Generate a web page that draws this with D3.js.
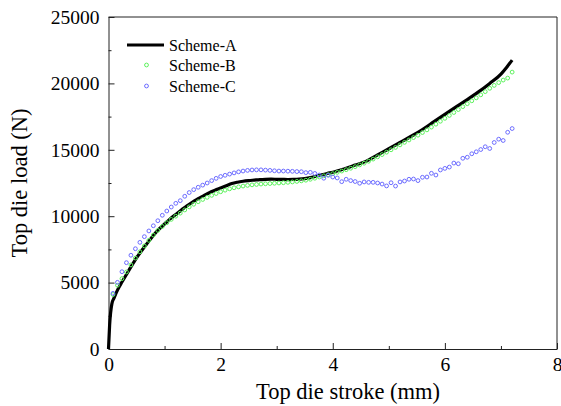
<!DOCTYPE html>
<html>
<head>
<meta charset="utf-8">
<script src="https://cdn.jsdelivr.net/npm/d3@7"></script>
<style>
  body { margin: 0; background: #fff; }
  svg { display: block; font-family: "Liberation Serif", "Times New Roman", serif; }
</style>
</head>
<body>
<svg id="chart"></svg>
<script>
const width = 561;
const height = 406;

// Scheme-A, solid line
const strokeA = [0, 0.02, 0.06, 0.1, 0.16, 0.24, 0.32, 0.4,
  0.5, 0.6, 0.7, 0.8, 0.9, 1.0, 1.1, 1.2, 1.3, 1.4, 1.5, 1.6, 1.7, 1.8, 1.9, 2.0,
  2.1, 2.2, 2.3, 2.4, 2.5, 2.6, 2.7, 2.8, 2.9, 3.0, 3.1, 3.2, 3.3, 3.4, 3.5, 3.6,
  3.7, 3.8, 3.9, 4.0, 4.2, 4.4, 4.6, 4.8, 5.0, 5.2, 5.4, 5.6, 5.8, 6.0, 6.2, 6.4,
  6.6, 6.8, 7.0, 7.1, 7.2];
const loadA = [0, 1800, 3400, 3850, 4430, 5040, 5610, 6180,
  6860, 7460, 8010, 8550, 9020, 9410, 9800, 10130, 10460, 10790, 11060, 11330, 11550, 11770, 11950, 12120,
  12290, 12460, 12560, 12630, 12680, 12720, 12760, 12780, 12790, 12780, 12770, 12760, 12770, 12790, 12830, 12900,
  13010, 13120, 13220, 13310, 13560, 13850, 14150, 14620, 15080, 15550, 16020, 16530, 17100, 17670, 18230, 18780,
  19360, 20000, 20700, 21200, 21750];

// Scheme-B and Scheme-C share the same stroke grid
const strokeBC = [0.08, 0.16, 0.24, 0.32, 0.40, 0.48, 0.56, 0.64, 0.72, 0.80,
  0.88, 0.96, 1.04, 1.12, 1.20, 1.28, 1.36, 1.44, 1.52, 1.60,
  1.68, 1.76, 1.84, 1.92, 2.00, 2.08, 2.16, 2.24, 2.32, 2.40,
  2.48, 2.56, 2.64, 2.72, 2.80, 2.88, 2.96, 3.04, 3.12, 3.20,
  3.28, 3.36, 3.44, 3.52, 3.60, 3.68, 3.76, 3.84, 3.92, 4.00,
  4.08, 4.16, 4.24, 4.32, 4.40, 4.48, 4.56, 4.64, 4.72, 4.80,
  4.88, 4.96, 5.04, 5.12, 5.20, 5.28, 5.36, 5.44, 5.52, 5.60,
  5.68, 5.76, 5.84, 5.92, 6.00, 6.08, 6.16, 6.24, 6.32, 6.40,
  6.48, 6.56, 6.64, 6.72, 6.80, 6.88, 6.96, 7.04, 7.12, 7.20];

const loadB = [4100, 4800, 5300, 5800, 6330, 6850, 7320, 7760, 8180, 8580,
  8930, 9230, 9510, 9760, 10000, 10230, 10470, 10700, 10900, 11090,
  11260, 11420, 11570, 11710, 11840, 11960, 12060, 12140, 12210, 12270,
  12320, 12360, 12390, 12420, 12440, 12460, 12480, 12500, 12520, 12550,
  12580, 12620, 12660, 12710, 12780, 12860, 12950, 13040, 13120, 13200,
  13300, 13400, 13500, 13610, 13730, 13860, 13990, 14140, 14300, 14470,
  14640, 14820, 15000, 15180, 15370, 15560, 15740, 15920, 16100, 16300,
  16500, 16710, 16930, 17150, 17370, 17590, 17810, 18030, 18250, 18470,
  18690, 18910, 19140, 19380, 19630, 19850, 20060, 20250, 20400, 20850];

const loadC = [4190, 5020, 5820, 6500, 7060, 7550, 8030, 8460, 8890, 9280,
  9660, 10070, 10390, 10690, 10970, 11170, 11500, 11780, 12000, 12180,
  12340, 12500, 12680, 12850, 12990, 13080, 13170, 13260, 13340, 13400,
  13450, 13480, 13490, 13490, 13470, 13450, 13420, 13400, 13400, 13390,
  13380, 13360, 13350, 13280, 13300, 13220, 13100, 12860, 13080, 12950,
  12880, 12600, 12780, 12680, 12610, 12480, 12580, 12550, 12550, 12500,
  12420, 12280, 12520, 12270, 12580, 12650, 12780, 12800, 12680, 12930,
  12950, 13230, 13100, 13480, 13600, 13700, 14000, 13950, 14360, 14440,
  14700, 14850, 15020, 15230, 15100, 15550, 15800, 15700, 16320, 16600];

const xTicks = [0, 2, 4, 6, 8];
const xMinor = [1, 3, 5, 7];
const yTicks = [0, 5000, 10000, 15000, 20000, 25000];
const yMinor = [2500, 7500, 12500, 17500, 22500];

const seriesNames = ['Scheme-A', 'Scheme-B', 'Scheme-C'];
const colorB = '#5cf25c';
const colorC = '#6b6bff';

const margin = {left: 108.5, right: 4, top: 17, bottom: 57};

const svg = d3.select('#chart')
  .attr('width', width)
  .attr('height', height);

const x = d3.scaleLinear().domain([0, 8]).range([margin.left, width - margin.right]);
const y = d3.scaleLinear().domain([0, 25000]).range([height - margin.bottom, margin.top]);

// minor ticks first, so the major axis sits on top
svg.append('g')
  .attr('transform', `translate(0, ${y(0)})`)
  .call(d3.axisBottom(x).tickValues(xMinor).tickSizeInner(-3).tickSizeOuter(0).tickFormat(''))
  .call(g => g.select('.domain').remove());
svg.append('g')
  .attr('transform', `translate(${x(0)}, 0)`)
  .call(d3.axisLeft(y).tickValues(yMinor).tickSizeInner(-3).tickSizeOuter(0).tickFormat(''))
  .call(g => g.select('.domain').remove());

const xAxis = svg.append('g')
  .attr('transform', `translate(0, ${y(0)})`)
  .call(d3.axisBottom(x).tickValues(xTicks).tickSizeInner(-6).tickSizeOuter(0).tickPadding(8).tickFormat(d3.format('d')));

const yAxis = svg.append('g')
  .attr('transform', `translate(${x(0)}, 0)`)
  .call(d3.axisLeft(y).tickValues(yTicks).tickSizeInner(-6).tickSizeOuter(0).tickPadding(9).tickFormat(d3.format('d')));

svg.selectAll('.tick text')
  .attr('font-family', '"Liberation Serif", serif')
  .attr('font-size', 19.5)
  .attr('fill', '#000');
svg.selectAll('.tick line').attr('stroke', '#222');
svg.selectAll('.domain').attr('stroke', '#222');

// top and right frame
svg.append('path')
  .attr('d', `M${x(0)},${y(25000)}H${x(8)}V${y(0)}`)
  .attr('fill', 'none')
  .attr('stroke', '#222');

// curves
const line = d3.line()
  .x(d => x(d[0]))
  .y(d => y(d[1]))
  .curve(d3.curveMonotoneX);

svg.append('path')
  .datum(strokeA.map((s, i) => [s, loadA[i]]))
  .attr('d', line)
  .attr('fill', 'none')
  .attr('stroke', '#000')
  .attr('stroke-width', 3.2);

svg.append('g').selectAll('circle')
  .data(strokeBC.map((s, i) => [s, loadB[i]]))
  .enter().append('circle')
  .attr('cx', d => x(d[0]))
  .attr('cy', d => y(d[1]))
  .attr('r', 1.9)
  .attr('fill', 'none')
  .attr('stroke', colorB)
  .attr('stroke-width', 1);

svg.append('g').selectAll('circle')
  .data(strokeBC.map((s, i) => [s, loadC[i]]))
  .enter().append('circle')
  .attr('cx', d => x(d[0]))
  .attr('cy', d => y(d[1]))
  .attr('r', 1.9)
  .attr('fill', 'none')
  .attr('stroke', colorC)
  .attr('stroke-width', 1);

// axis titles
svg.append('text')
  .attr('x', 348)
  .attr('y', 399)
  .attr('text-anchor', 'middle')
  .attr('font-size', 22.5)
  .text('Top die stroke (mm)');

svg.append('text')
  .attr('transform', `translate(27, ${(y(0) + y(25000)) / 2}) rotate(-90)`)
  .attr('text-anchor', 'middle')
  .attr('font-size', 22.5)
  .text('Top die load (N)');

// legend
const legend = svg.append('g').attr('font-size', 16);
legend.append('line')
  .attr('x1', 127).attr('x2', 164)
  .attr('y1', 45).attr('y2', 45)
  .attr('stroke', '#000').attr('stroke-width', 3.2);
legend.append('circle')
  .attr('cx', 146.5).attr('cy', 65).attr('r', 1.9)
  .attr('fill', 'none').attr('stroke', colorB);
legend.append('circle')
  .attr('cx', 146.5).attr('cy', 86).attr('r', 1.9)
  .attr('fill', 'none').attr('stroke', colorC);
legend.selectAll('text')
  .data(seriesNames)
  .enter().append('text')
  .attr('x', 169)
  .attr('y', (d, i) => 50.5 + i * 20.5)
  .text(d => d);
</script>
</body>
</html>
